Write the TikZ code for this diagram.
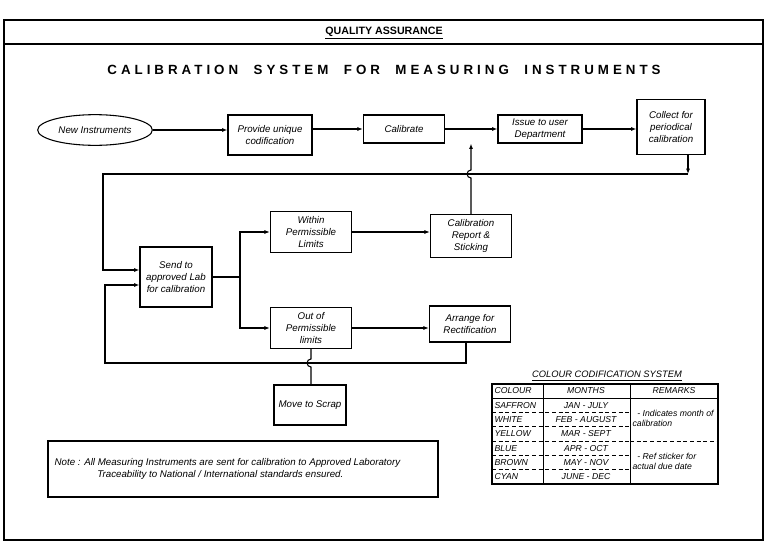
\documentclass[tikz,border=0pt]{standalone}
\usepackage{fontspec}
\setmainfont{Liberation Sans}
\usetikzlibrary{arrows.meta,shapes.geometric}
\begin{document}
\begin{tikzpicture}[x=0.75pt,y=-0.75pt,
  bx/.style={draw,thick,font=\itshape\fontsize{7.3}{8.8}\selectfont,align=center,inner sep=1pt},
  ln/.style={thick},
  ar/.style={thick,-{Latex[length=4pt,width=3pt]}},
  cell/.style={font=\itshape\fontsize{6.5}{7.5}\selectfont,inner sep=1pt}]
\useasboundingbox (0,0) rectangle (768,543);
\draw[thick] (4,20) rectangle (763,540);
\draw[thick] (4,44) -- (763,44);
\node[font=\bfseries\fontsize{8}{9}\selectfont] (hdr) at (384,33) {\underline{QUALITY ASSURANCE}};
\node[font=\bfseries\fontsize{10}{12}\selectfont] (ttl) at (384,70) {\addfontfeature{LetterSpace=30}CALIBRATION\ \ SYSTEM\ \ FOR\ \ MEASURING\ \ INSTRUMENTS};
% nodes
\node[draw,thick,ellipse,minimum width=86pt,minimum height=23pt,inner sep=0pt,font=\itshape\fontsize{7.3}{8.8}\selectfont] (new) at (95,130) {New Instruments};
\node[bx,minimum width=63pt,minimum height=30pt] (prov) at (270,135) {Provide unique\\codification};
\node[bx,minimum width=61pt,minimum height=21pt] (cal) at (404,129) {Calibrate};
\node[bx,minimum width=63pt,minimum height=21pt] (iss) at (540,129) {Issue to user\\Department};
\node[bx,minimum width=51pt,minimum height=41pt] (col) at (671,127) {Collect for\\periodical\\calibration};
\node[bx,minimum width=54pt,minimum height=45pt] (send) at (176,277) {Send to\\approved Lab\\for calibration};
\node[bx,minimum width=61pt,minimum height=31pt] (with) at (311,232) {Within\\Permissible\\Limits};
\node[bx,minimum width=61pt,minimum height=32pt] (rep) at (471,236) {Calibration\\Report \&\\Sticking};
\node[bx,minimum width=61pt,minimum height=31pt] (out) at (311,328) {Out of\\Permissible\\limits};
\node[bx,minimum width=61pt,minimum height=27pt] (arr) at (470,324) {Arrange for\\Rectification};
\node[bx,minimum width=54pt,minimum height=30pt] (scr) at (310,405) {Move to Scrap};
\draw[thick] (48,441) rectangle (438,497);
\node[font=\itshape\fontsize{7.3}{9.5}\selectfont,align=left,anchor=west] (note) at (50,469) {Note : All Measuring Instruments are sent for calibration to Approved Laboratory\\\hspace{32pt}Traceability to National / International standards ensured.};
% top row arrows
\draw[ar] (new) -- (prov.west|-new);
\draw[ar] (prov.east|-cal) -- (cal);
\draw[ar] (cal) -- (iss);
\draw[ar] (iss) -- (col.west|-iss);
% loop from collect
\coordinate (c1) at (688,174);
\coordinate (c2) at (103,174);
\draw[ar] (col.south-|c1) -- (c1);
\draw[ar] (c1) -- (c2) -- (103,270) -- (send.west|-0,270);
% report to issue with hop
\draw[ar] (rep.north) -- (471,178) arc[start angle=-90,end angle=-270,radius=3pt] -- (iss.south-|rep.north);
% split
\coordinate (sp) at (240,277);
\draw[ln] (send.east|-sp) -- (sp);
\draw[ar] (sp) |- (with.west);
\draw[ar] (sp) |- (out.west);
\draw[ar] (with) -- (rep.west|-with);
\draw[ar] (out) -- (arr.west|-out);
% bottom loop
\coordinate (b1) at (466,363);
\draw[ar] (arr.south-|b1) -- (b1) -- (105,363) -- (105,285) -- (send.west|-0,285);
% out to scrap with hop
\draw[ln] (out.south) -- (311,359) arc[start angle=90,end angle=270,radius=3pt] -- (scr.north-|out.south);
% table
\node[font=\itshape\fontsize{7}{8}\selectfont] (tt) at (607,376) {\underline{COLOUR CODIFICATION SYSTEM}};
\draw[thick] (492,384) rectangle (718,484);
\draw (543,384) -- (543,484);
\draw (630,384) -- (630,484);
\draw (492,398) -- (718,398);
\foreach \i in {1,...,5} {\draw[densely dashed] (492,{398+\i*14.33}) -- (630,{398+\i*14.33});}
\draw[densely dashed] (630,441) -- (718,441);
\node[cell,anchor=west] (h1) at (493,391) {COLOUR};
\node[cell] (h2) at (586,391) {MONTHS};
\node[cell] (h3) at (674,391) {REMARKS};
\foreach \c/\m [count=\k] in {SAFFRON/JAN - JULY,WHITE/FEB - AUGUST,YELLOW/MAR - SEPT,BLUE/APR - OCT,BROWN/MAY - NOV,CYAN/JUNE - DEC} {
  \node[cell,anchor=west] (c\k) at (493,{398+(\k-0.5)*14.33}) {\c};
  \node[cell] (m\k) at (586,{398+(\k-0.5)*14.33}) {\m};
}
\node[cell,anchor=west,align=left] (r1) at (631,418) {\ \ - Indicates month of\\calibration};
\node[cell,anchor=west,align=left] (r2) at (631,461) {\ \ - Ref sticker for\\actual due date};
\end{tikzpicture}
\end{document}
